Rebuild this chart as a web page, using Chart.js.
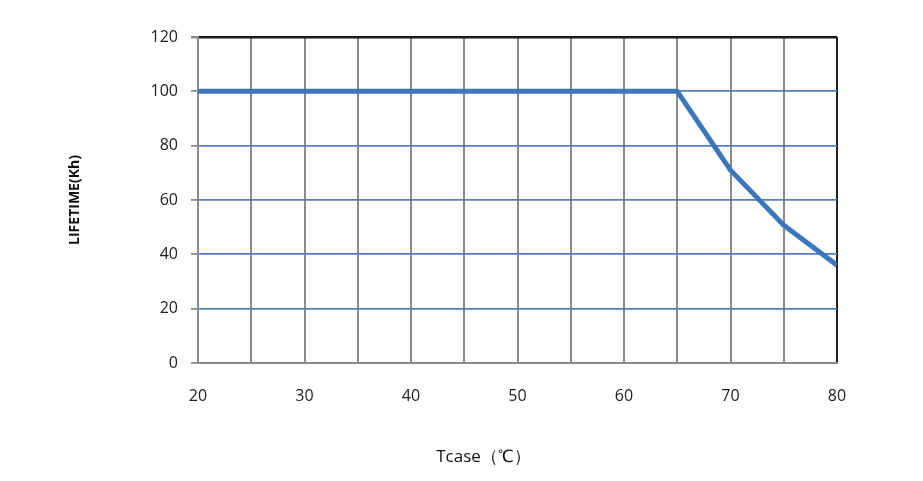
<!DOCTYPE html>
<html><head><meta charset="utf-8">
<script src="https://cdn.jsdelivr.net/npm/chart.js@4"></script>
<style>html,body{margin:0;padding:0;background:#fff}#wrap{width:923px;height:481px}</style>
</head><body><div id="wrap"><canvas id="c" width="923" height="481"></canvas></div>
<script>
const tcase = [20, 65, 70, 75, 80];
const lifetime = [100, 100, 71, 50.7, 36];
const xTitle = 'Tcase（℃）\u2003\u2003\u2003\u2003';
const yTitle = 'LIFETIME(Kh)';

const chart = new Chart(document.getElementById('c'), {
  type: 'line',
  data: { datasets: [{
    data: tcase.map((x, i) => ({x, y: lifetime[i]})),
    borderColor: '#3d77bb', borderWidth: 5, pointRadius: 0, tension: 0, fill: false,
    borderJoinStyle: 'round', borderCapStyle: 'butt'
  }]},
  options: {
    responsive: false, animation: false,
    layout: { padding: { left: 58, right: 86, top: 37, bottom: 0 } },
    plugins: { legend: { display: false }, tooltip: { enabled: false } },
    scales: {
      x: {
        type: 'linear', min: 20, max: 80,
        afterFit: s => { s.height = 118; },
        ticks: { stepSize: 5, padding: 24, maxRotation: 0, autoSkip: false, color: '#222',
          font: { family: 'Open Sans', size: 16 },
          callback: v => (v % 10 === 0 ? String(v) : '') },
        grid: { drawTicks: false, lineWidth: 2,
          color: c => (c.tick && c.tick.value === 80 ? '#222' : '#8a8a8a') },
        border: { color: '#8a8a8a', width: 2 },
        title: { display: true, text: xTitle, color: '#111',
          font: { family: 'Open Sans', size: 17 }, padding: { top: 0, bottom: 14 } }
      },
      y: {
        min: 0, max: 120,
        afterFit: s => { s.width = 140; },
        ticks: { stepSize: 20, padding: 13, color: '#222', font: { family: 'Open Sans', size: 16 } },
        grid: { lineWidth: c => (c.tick && c.tick.value === 120 ? 2.5 : 1.8),
          tickLength: 7, tickColor: '#8a8a8a',
          color: c => (c.tick && c.tick.value === 120 ? '#1a1a1a' : (c.tick && c.tick.value === 0 ? '#8a8a8a' : '#4f81bd')) },
        border: { color: '#8a8a8a', width: 2 },
        title: { display: true, text: yTitle, color: '#111',
          font: { family: 'Open Sans', size: 14, weight: 'bold' }, padding: { top: 9, bottom: 0 } }
      }
    }
  }
});
</script></body></html>
